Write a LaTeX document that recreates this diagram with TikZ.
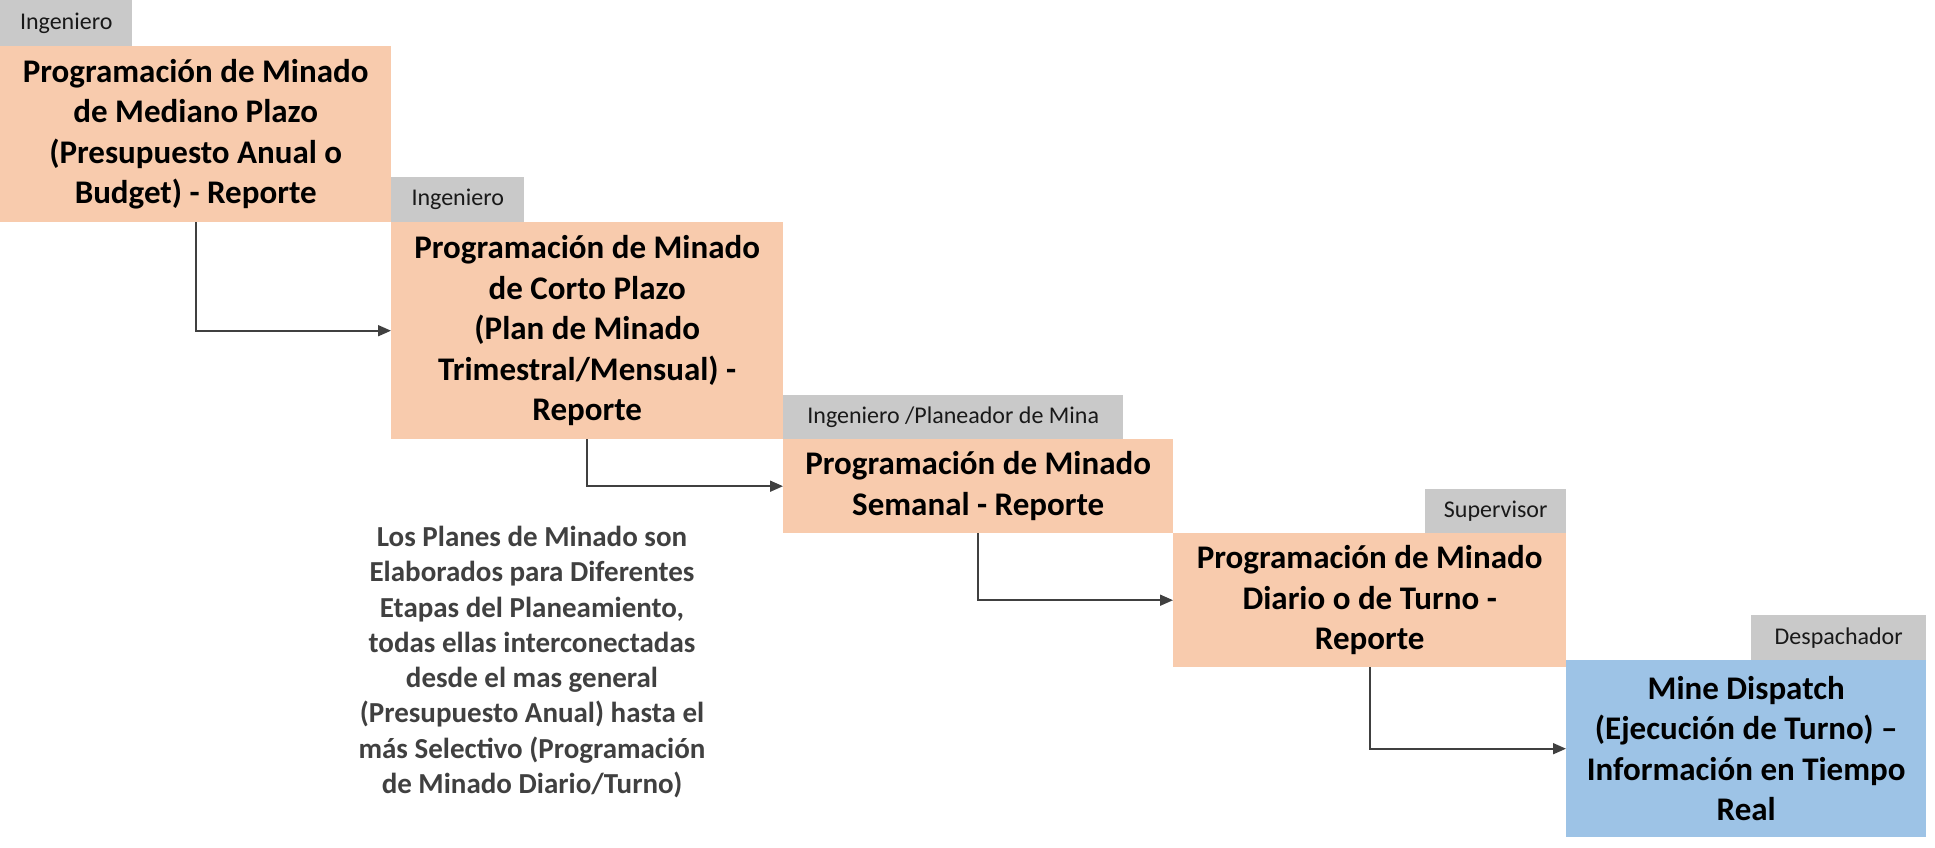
\documentclass[tikz,border=0pt]{standalone}
\usepackage{fontspec}
\setmainfont{Carlito}
\usetikzlibrary{arrows.meta}
\definecolor{peach}{HTML}{F8CBAD}
\definecolor{lgray}{HTML}{C9C9C9}
\definecolor{lblue}{HTML}{9DC3E6}
\definecolor{dgray}{HTML}{404040}
\tikzset{
  stagebox/.style={fill=peach, inner sep=0pt, anchor=north west, align=center,
    font=\fontsize{33}{40.5}\selectfont\bfseries, text=black},
  bluebox/.style={stagebox, fill=lblue},
  rolebox/.style={fill=lgray, inner sep=0pt, anchor=north west, align=center,
    font=\fontsize{24}{29}\selectfont, text=black!90},
  conn/.style={draw=dgray, line width=1.8pt, -{Triangle[length=13pt,width=11pt]}},
  note/.style={align=center, text=dgray, font=\fontsize{29}{35.3}\selectfont\bfseries}
}
\begin{document}
\begin{tikzpicture}[x=1pt,y=-1pt]
\useasboundingbox (0,0) rectangle (1935,848);
% stage boxes
\node[stagebox, minimum width=391pt, minimum height=176pt] (b1) at (0,46)
  {Programación de Minado\\de Mediano Plazo\\(Presupuesto Anual o\\Budget) - Reporte};
\node[rolebox, minimum width=132pt, minimum height=46pt] (g1) at (0,0) {Ingeniero};

\node[stagebox, minimum width=392pt, minimum height=217pt] (b2) at (391,222)
  {Programación de Minado\\de Corto Plazo\\(Plan de Minado\\Trimestral/Mensual) -\\Reporte};
\node[rolebox, minimum width=133pt, minimum height=45pt] (g2) at (391,177) {Ingeniero};

\node[stagebox, minimum width=390pt, minimum height=94pt] (b3) at (783,439)
  {Programación de Minado\\Semanal - Reporte};
\node[rolebox, minimum width=340pt, minimum height=44pt] (g3) at (783,395) {Ingeniero /Planeador de Mina};

\node[stagebox, minimum width=393pt, minimum height=134pt] (b4) at (1173,533)
  {Programación de Minado\\Diario o de Turno -\\Reporte};
\node[rolebox, minimum width=141pt, minimum height=44pt] (g4) at (1425,489) {Supervisor};

\node[bluebox, minimum width=360pt, minimum height=177pt] (b5) at (1566,660)
  {Mine Dispatch\\(Ejecución de Turno) --\\Información en Tiempo\\Real};
\node[rolebox, minimum width=175pt, minimum height=45pt] (g5) at (1751,615) {Despachador};

% connectors
\draw[conn] (b1.south) |- (b2.west);
\draw[conn] (b2.south) |- (b3.west);
\draw[conn] (b3.south) |- (b4.west);
\draw[conn] (b4.south) |- (b5.west);

% note
\node[note] (n1) at (532,662)
  {Los Planes de Minado son\\Elaborados para Diferentes\\Etapas del Planeamiento,\\todas ellas interconectadas\\desde el mas general\\(Presupuesto Anual) hasta el\\más Selectivo (Programación\\de Minado Diario/Turno)};
\end{tikzpicture}
\end{document}
